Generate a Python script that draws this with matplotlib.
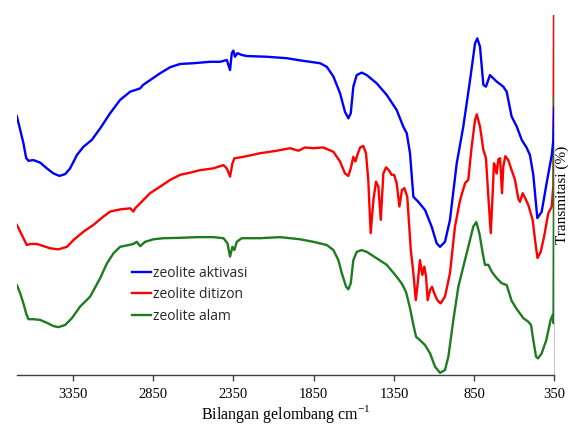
import matplotlib
matplotlib.use("Agg")
import matplotlib.pyplot as plt

# Wavenumbers (cm-1) and transmittance (arbitrary %, offset curves)
wn_aktivasi = [3699, 3678, 3658, 3641, 3627, 3596, 3554, 3512, 3471, 3434, 3398, 3367, 3325, 3284,
               3232, 3180, 3118, 3056, 2993, 2931, 2912, 2869, 2807, 2744, 2682, 2601, 2495, 2433,
               2391, 2371, 2360, 2350, 2340, 2325, 2298, 2267, 2142, 2018, 1935, 1810, 1768, 1727,
               1686, 1655, 1634, 1619, 1603, 1582, 1551, 1519, 1457, 1395, 1333, 1292, 1270, 1250,
               1229, 1198, 1156, 1115, 1084, 1063, 1032, 1001, 959, 918, 876, 845, 831, 814, 793,
               777, 752, 710, 669, 648, 617, 585, 554, 523, 503, 482, 457, 430, 399, 367, 357, 352]
T_aktivasi = [71.9, 68.1, 64.4, 60.3, 59.5, 59.7, 59.0, 57.4, 56.0, 55.3, 55.8, 57.4, 61.1, 63.4,
              65.3, 68.5, 72.7, 76.4, 78.7, 79.6, 80.6, 81.9, 83.8, 85.5, 86.4, 86.6, 87.0, 87.0,
              87.5, 84.7, 89.4, 90.1, 88.4, 89.4, 88.9, 88.6, 88.4, 88.0, 87.4, 86.6, 85.6, 82.9,
              78.3, 73.1, 71.3, 72.7, 80.1, 83.3, 84.0, 83.3, 81.0, 77.8, 73.6, 69.0, 67.1, 61.6,
              49.5, 48.1, 45.8, 41.2, 36.6, 35.6, 37.0, 43.1, 58.8, 69.0, 81.9, 92.1, 93.5, 91.2, 80.6,
              80.1, 83.3, 81.5, 80.1, 78.7, 71.8, 69.0, 65.3, 63.1, 61.1, 55.6, 43.6, 45.3, 53.3, 61.1, 65.3, 74.2]

wn_ditizon = [3699, 3678, 3658, 3637, 3616, 3574, 3533, 3491, 3440, 3387, 3346, 3284, 3222, 3160,
              3118, 3056, 2993, 2973, 2962, 2931, 2869, 2807, 2744, 2682, 2620, 2557, 2475, 2412,
              2391, 2371, 2356, 2344, 2288, 2184, 2080, 1997, 1945, 1904, 1852, 1790, 1727, 1686,
              1655, 1634, 1619, 1603, 1590, 1578, 1561, 1541, 1524, 1510, 1495, 1478, 1462, 1447,
              1432, 1416, 1399, 1382, 1364, 1349, 1333, 1316, 1300, 1285, 1267, 1245, 1229, 1214,
              1202, 1188, 1173, 1161, 1150, 1140, 1125, 1113, 1099, 1080, 1059, 1032, 1001, 970,
              938, 907, 887, 866, 845, 834, 814, 793, 777, 762, 747, 735, 727, 719, 710, 700, 689,
              677, 669, 656, 638, 617, 596, 575, 565, 548, 527, 513, 498, 486, 471, 456, 436, 415,
              389, 367, 357, 352]
T_ditizon = [41.7, 39.8, 38.0, 36.1, 36.4, 36.4, 35.8, 35.2, 34.9, 35.6, 37.5, 39.8, 41.7, 44.0,
             45.4, 46.0, 46.3, 45.4, 46.3, 47.7, 50.5, 52.3, 54.2, 55.6, 56.2, 56.9, 57.4, 58.3,
             57.4, 55.1, 58.8, 60.2, 60.6, 61.6, 62.3, 63.0, 62.3, 63.2, 63.0, 63.2, 62.0, 59.3,
             56.0, 55.3, 57.4, 60.6, 59.3, 61.1, 63.2, 63.6, 61.6, 54.2, 39.4, 48.6, 53.7, 52.3,
             43.1, 56.0, 57.7, 56.9, 55.6, 55.6, 53.3, 46.8, 51.4, 51.9, 49.5, 34.7, 28.3, 20.8,
             25.5, 31.9, 27.8, 30.1, 27.3, 20.8, 23.6, 24.5, 22.7, 20.8, 19.9, 21.8, 28.3, 41.2,
             48.6, 53.3, 54.2, 63.4, 70.8, 72.4, 69.0, 62.5, 60.3, 49.5, 39.4, 50.5, 58.8, 57.9, 56.0, 59.9, 60.2,
             50.5, 57.9, 60.8, 59.7, 56.9, 54.2, 48.9, 48.1, 50.5, 48.6, 47.2, 44.9, 43.1, 37.5, 32.5, 34.2, 38.4,
             44.9, 46.8, 52.8, 115.0]

wn_alam = [3699, 3678, 3658, 3641, 3627, 3596, 3554, 3512, 3471, 3440, 3398, 3356, 3305, 3242,
           3180, 3138, 3097, 3056, 3004, 2973, 2952, 2931, 2900, 2848, 2786, 2682, 2578, 2475,
           2412, 2387, 2371, 2356, 2344, 2329, 2298, 2184, 2059, 1935, 1852, 1768, 1727, 1696,
           1675, 1648, 1634, 1619, 1603, 1582, 1551, 1519, 1457, 1395, 1333, 1300, 1275, 1250,
           1229, 1212, 1188, 1156, 1125, 1094, 1063, 1032, 1011, 980, 949, 918, 887, 856, 837,
           818, 797, 783, 762, 741, 710, 679, 648, 617, 585, 544, 513, 496, 482, 465, 453, 430,
           401, 374, 361, 356, 352]
T_alam = [25.0, 22.7, 19.9, 17.1, 15.5, 15.5, 15.3, 14.5, 13.6, 13.3, 13.9, 15.8, 19.0, 21.8,
          26.9, 31.0, 33.8, 35.6, 36.1, 36.4, 37.0, 35.8, 37.0, 37.7, 38.0, 38.1, 38.3, 38.3,
          38.0, 36.6, 32.9, 35.6, 34.7, 37.0, 38.0, 38.0, 38.3, 37.7, 37.0, 36.1, 34.7, 31.9,
          28.3, 24.5, 23.8, 25.5, 31.9, 34.2, 34.7, 34.2, 32.4, 30.6, 27.3, 25.3, 23.1, 18.6,
          13.9, 10.6, 9.7, 8.3, 6.0, 2.3, 0.6, 1.4, 5.1, 15.3, 24.5, 30.1, 35.6, 41.2, 42.5,
          39.4, 33.8, 30.6, 30.6, 28.7, 26.9, 25.5, 25.0, 20.6, 18.3, 15.8, 14.8, 13.9, 9.7, 5.1, 4.6, 6.0,
          9.7, 15.3, 16.7, 14.4, 77.2]

labels = ["zeolite aktivasi", "zeolite ditizon", "zeolite alam"]
xticks = [3350, 2850, 2350, 1850, 1350, 850, 350]

fig = plt.figure(figsize=(5.73, 4.26), dpi=100)
ax = fig.add_axes([0.0291, 0.1197, 0.9386, 0.8451])

lw = 1.7
ax.plot(wn_ditizon, T_ditizon, color="#FF0000", lw=lw, label=labels[1], zorder=2)
ax.plot(wn_alam, T_alam, color="#1E7B1E", lw=lw, label=labels[2], zorder=3)
ax.plot(wn_aktivasi, T_aktivasi, color="#0000FF", lw=lw, label=labels[0], zorder=4)

ax.set_xlim(3700, 350)
ax.set_ylim(0, 100)

ax.set_xticks(xticks)
ax.set_xticklabels([str(t) for t in xticks], fontfamily="Liberation Serif", fontsize=10.5)
ax.set_yticks([])
ax.tick_params(axis="x", direction="out", length=4, width=1, color="#404040", pad=5)

for s in ["top", "left"]:
    ax.spines[s].set_visible(False)
ax.spines["bottom"].set_color("#404040")
ax.spines["bottom"].set_linewidth(1.0)
ax.spines["right"].set_color("#C8C8C8")
ax.spines["right"].set_linewidth(0.8)

ax.set_xlabel("Bilangan gelombang cm$^{\\mathregular{-1}}$", fontfamily="Liberation Serif",
              fontsize=11.5, labelpad=2)
ax.yaxis.set_label_position("right")
ax.set_ylabel("Transmitasi (%)", fontfamily="Liberation Serif", fontsize=11, labelpad=1)

handles, labs = ax.get_legend_handles_labels()
order = [2, 0, 1]
leg = ax.legend([handles[i] for i in order], [labs[i] for i in order],
                loc="upper left", bbox_to_anchor=(0.205, 0.318), frameon=False,
                prop={"family": "Open Sans", "size": 10}, handlelength=1.3,
                handletextpad=0.15, labelspacing=0.45, borderaxespad=0)
for t in leg.get_texts():
    t.set_color("#262626")

fig.savefig("out.png", dpi=100)
